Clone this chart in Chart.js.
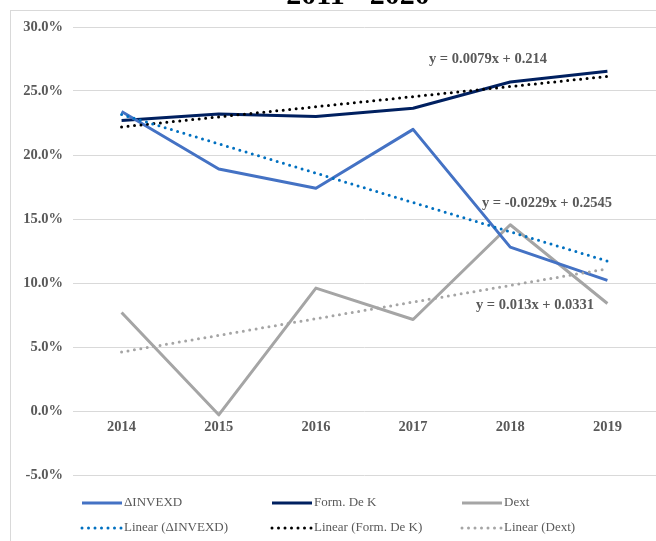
<!DOCTYPE html>
<html>
<head>
    <meta charset="UTF-8">
    <title>2011 - 2020</title>
    <script src="https://cdn.jsdelivr.net/npm/chart.js@4/dist/chart.umd.min.js"></script>
    <style>
        body { margin: 0; background: #fff; }
        #wrap { width: 656px; height: 541px; overflow: hidden; position: relative; }
    </style>
</head>
<body>
    <div id="wrap"><canvas id="myChart" width="656" height="541"></canvas></div>
    <script type="text/javascript">
        // data
        var years = ["2014", "2015", "2016", "2017", "2018", "2019"];
        var invexd = [0.234, 0.189, 0.174, 0.220, 0.128, 0.102];
        var formK = [0.227, 0.232, 0.230, 0.2365, 0.257, 0.2655];
        var dext = [0.077, -0.003, 0.096, 0.0715, 0.1455, 0.084];
        var linInvexd = [0.2316, 0.2087, 0.1858, 0.1629, 0.1400, 0.1171];
        var linFormK = [0.2219, 0.2298, 0.2377, 0.2456, 0.2535, 0.2614];
        var linDext = [0.0461, 0.0591, 0.0721, 0.0851, 0.0981, 0.1111];
        var equations = ["y = 0.0079x + 0.214", "y = -0.0229x + 0.2545", "y = 0.013x + 0.0331"];
        var chartTitle = "2011 - 2020";

        var grey = "#595959";
        var serif = "'Liberation Serif', 'DejaVu Serif', serif";
        var dots = [0, 6.5];

        function solid(label, data, color) {
            return {
                label: label, data: data, borderColor: color, borderWidth: 3,
                pointRadius: 0, fill: false, tension: 0, order: 1,
                borderJoinStyle: "round"
            };
        }
        function dotted(label, data, color) {
            return {
                label: label, data: data, borderColor: color, borderWidth: 3,
                pointRadius: 0, fill: false, tension: 0, order: 0,
                borderDash: dots, borderCapStyle: "round"
            };
        }

        // border, title, trend equations and the legend grid
        var decor = {
            id: "decor",
            afterDraw: function (chart) {
                var ctx = chart.ctx;
                ctx.save();
                ctx.strokeStyle = "#D9D9D9";
                ctx.lineWidth = 1;
                ctx.setLineDash([]);
                ctx.strokeRect(10.5, 10.5, 700, 600);

                ctx.fillStyle = "#000";
                ctx.font = "bold 30px " + serif;
                ctx.textAlign = "center";
                ctx.textBaseline = "alphabetic";
                ctx.fillText(chartTitle, 358, 4);

                ctx.fillStyle = grey;
                ctx.font = "bold 14.5px " + serif;
                ctx.textBaseline = "middle";
                ctx.fillText(equations[0], 488, 59);
                ctx.fillText(equations[1], 547, 203);
                ctx.fillText(equations[2], 535, 305);

                ctx.textAlign = "left";
                ctx.font = "13px " + serif;
                chart.data.datasets.forEach(function (ds, i) {
                    var x = 81 + (i % 3) * 190;
                    var y = i < 3 ? 503 : 528;
                    ctx.beginPath();
                    ctx.strokeStyle = ds.borderColor;
                    ctx.lineWidth = 3;
                    ctx.lineCap = ds.borderDash ? "round" : "butt";
                    ctx.setLineDash(ds.borderDash || []);
                    ctx.moveTo(x + 1, y);
                    ctx.lineTo(x + 41, y);
                    ctx.stroke();
                    ctx.setLineDash([]);
                    ctx.fillStyle = grey;
                    ctx.fillText(ds.label, x + 43, y);
                });
                ctx.restore();
            }
        };

        new Chart("myChart", {
            type: "line",
            data: {
                labels: years,
                datasets: [
                    solid("\u0394INVEXD", invexd, "#4472C4"),
                    solid("Form. De K", formK, "#002060"),
                    solid("Dext", dext, "#A5A5A5"),
                    dotted("Linear (\u0394INVEXD)", linInvexd, "#0070C0"),
                    dotted("Linear (Form. De K)", linFormK, "#000000"),
                    dotted("Linear (Dext)", linDext, "#A5A5A5")
                ]
            },
            options: {
                responsive: false,
                animation: false,
                devicePixelRatio: 1,
                layout: { padding: { top: 27, left: 10, right: 0, bottom: 66 } },
                plugins: {
                    legend: { display: false },
                    title: { display: false },
                    tooltip: { enabled: false }
                },
                scales: {
                    x: {
                        position: { y: 0 },
                        offset: true,
                        grid: { display: false, drawTicks: false },
                        border: { display: false },
                        ticks: {
                            color: grey, padding: 8, maxRotation: 0,
                            font: { family: serif, size: 14.5, weight: "bold" }
                        }
                    },
                    y: {
                        min: -0.05,
                        max: 0.30,
                        grid: { color: "#D9D9D9", lineWidth: 1, drawTicks: false },
                        border: { display: false },
                        afterFit: function (scale) { scale.width = 63; },
                        ticks: {
                            stepSize: 0.05,
                            color: grey,
                            padding: 10,
                            font: { family: serif, size: 14.5, weight: "bold" },
                            callback: function (v) { return (Math.round(v * 1000) / 10).toFixed(1) + "%"; }
                        }
                    }
                }
            },
            plugins: [decor]
        });
    </script>
</body>
</html>
